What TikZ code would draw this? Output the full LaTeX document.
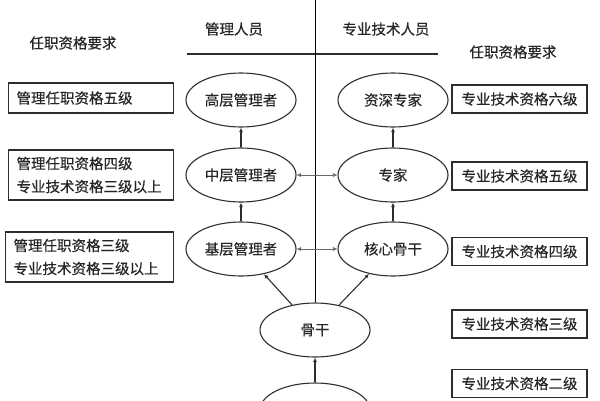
\documentclass[tikz,border=0pt]{standalone}
\usepackage{fontspec}
\newfontfamily\cjk[FakeBold=0.3]{Noto Sans CJK SC}
\usetikzlibrary{shapes.geometric,arrows.meta}
\definecolor{ink}{HTML}{262626}
\definecolor{edge}{HTML}{2E2E2E}
\definecolor{thin}{HTML}{8A8A8A}
\definecolor{mid}{HTML}{6A6A6A}
\tikzset{
  every node/.style={font=\cjk\fontsize{14.5}{23}\selectfont, text=ink},
  oval/.style={ellipse, draw=edge, line width=1.1pt, minimum width=110pt, minimum height=54pt, inner sep=0pt},
  lbox/.style={rectangle, draw=edge, line width=1.1pt, anchor=west, inner xsep=8pt, inner ysep=0pt, align=left},
  rbox/.style={rectangle, draw=edge, line width=1.1pt, minimum width=135pt, minimum height=28pt, inner sep=0pt},
  upar/.style={draw=edge, line width=1.1pt, -{Latex[length=4.5pt,width=4pt]}},
  bothar/.style={draw=mid, line width=0.6pt, {Latex[length=4.5pt,width=4pt]}-{Latex[length=4.5pt,width=4pt]}},
  plain/.style={text=ink}
}
\begin{document}
\begin{tikzpicture}[x=1pt,y=-1pt]
\useasboundingbox (0,0) rectangle (600,400);
\clip (0,0) rectangle (600,400);
% headers
\node[plain] (hmgr) at (234,29) {管理人员};
\node[plain] (htech) at (386,29) {专业技术人员};
\node[plain] (reql) at (73,43) {任职资格要求};
\node[plain] (reqr) at (513,52) {任职资格要求};
% divider lines
\coordinate (hl) at (187,54);
\coordinate (hr) at (438,54);
\draw[edge, line width=1.3pt] (hl) -- (hr);
% ellipses
\node[oval] (gao) at (241,100) {高层管理者};
\node[oval] (zhong) at (241,175) {中层管理者};
\node[oval] (ji) at (241,249) {基层管理者};
\node[oval] (zishen) at (393,100) {资深专家};
\node[oval] (zhuanjia) at (393,175) {专家};
\node[oval] (hexin) at (393,249) {核心骨干};
\node[oval] (gugan) at (315,330) {骨干};
\node[oval] (base) at (315,410) {};
% vertical divider
\coordinate (vtop) at (315,0);
\draw[thin, line width=0.7pt] (vtop) -- (gugan.north);
% arrows
\draw[upar] (zhong.north) -- (gao.south);
\draw[upar] (ji.north) -- (zhong.south);
\draw[upar] (zhuanjia.north) -- (zishen.south);
\draw[upar] (hexin.north) -- (zhuanjia.south);
\draw[upar] (gugan) -- (ji);
\draw[upar] (gugan) -- (hexin);
\draw[upar] (base.north) -- (gugan.south);
\draw[bothar] (zhong.east) -- (zhuanjia.west);
\draw[bothar] (ji.east) -- (hexin.west);
% left boxes
\node[lbox, text width=149pt, minimum height=30pt] (l1) at (8,98) {管理任职资格五级};
\node[lbox, text width=149pt, minimum height=50pt] (l2) at (8,175) {管理任职资格四级\\专业技术资格三级以上};
\node[lbox, text width=152pt, minimum height=50pt] (l3) at (5,257) {管理任职资格三级\\专业技术资格三级以上};
% right boxes
\node[rbox] (r6) at (519.5,99) {专业技术资格六级};
\node[rbox] (r5) at (519.5,176) {专业技术资格五级};
\node[rbox] (r4) at (519.5,251.5) {专业技术资格四级};
\node[rbox] (r3) at (519.5,324) {专业技术资格三级};
\node[rbox] (r2) at (519.5,383.5) {专业技术资格二级};
\end{tikzpicture}
\end{document}
